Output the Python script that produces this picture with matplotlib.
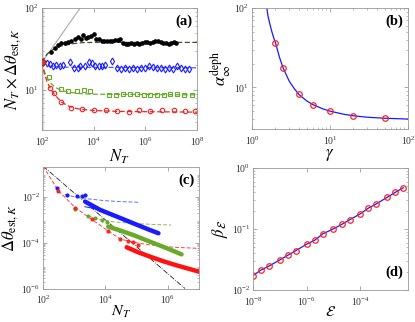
import numpy as np
import matplotlib
matplotlib.use("Agg")
import matplotlib.pyplot as plt
from matplotlib.ticker import NullFormatter, LogFormatterSciNotation

plt.rcParams['font.family'] = ['Liberation Serif', 'DejaVu Serif']
plt.rcParams['mathtext.fontset'] = 'stix'

# ---------------- panel (a) data ----------------
a_start = 21.7
a_gray_N = [1e2, 3.0e3]
a_gray_y = [21.7, 100.0]

a_black_logN = [2.35, 2.49, 2.62, 2.75, 2.88, 3.01, 3.14, 3.27, 3.39, 3.50, 3.60, 3.70, 3.79, 3.90,
                4.00, 4.10, 4.21, 4.31, 4.41, 4.52, 4.62, 4.72, 4.83, 4.93, 5.03, 5.14, 5.24, 5.34,
                5.45, 5.55, 5.66, 5.76, 5.86, 5.97, 6.07, 6.17, 6.28, 6.38, 6.48, 6.59, 6.69, 6.79,
                6.90, 7.00, 7.10, 7.20]
a_black = [29.3, 32.2, 35.4, 37.1, 37.8, 38.2, 39.0, 41.5, 44.7, 41.9, 46.4, 43.5, 43.9, 46.0,
           47.8, 41.5, 41.5, 39.0, 39.0, 39.0, 39.3, 40.0, 40.3, 40.7, 41.5, 37.1, 36.8, 36.4,
           37.1, 36.8, 37.8, 36.8, 37.4, 38.6, 38.2, 37.1, 38.2, 39.3, 40.0, 38.6, 37.8, 37.4,
           36.8, 37.1, 38.2, 37.8]
a_black_fit_logN = [2.0, 2.1, 2.2, 2.35, 2.5, 2.7, 3.0, 3.3, 3.6, 4.0, 8.0]
a_black_fit = [21.7, 25.0, 27.5, 30.0, 32.0, 34.0, 35.7, 37.0, 37.8, 38.0, 38.0]

a_blue_logN = [2.19, 2.30, 2.43, 2.55, 2.68, 2.81, 3.07, 3.25, 3.38, 3.48, 3.68, 3.81, 3.94,
               4.06, 4.19, 4.32, 4.45, 4.71, 4.90, 5.06, 5.21, 5.37, 5.52, 5.68, 5.83, 5.99,
               6.14, 6.30, 6.45, 6.61, 6.76, 6.92, 7.07, 7.23, 7.38, 7.54, 7.69]
a_blue = [21.5, 20.6, 19.8, 20.2, 19.8, 20.2, 21.7, 18.7, 18.4, 19.6, 19.8, 21.9, 21.1,
          19.3, 19.8, 19.3, 20.2, 22.6, 18.4, 18.0, 18.4, 18.2, 18.4, 18.0, 18.5, 18.7,
          19.3, 18.9, 18.5, 18.7, 18.0, 18.4, 17.9, 19.3, 18.7, 18.2, 18.2]
a_blue_fit_logN = [2.0, 2.3, 3.0, 8.0]
a_blue_fit = [21.7, 19.5, 18.9, 18.6]

a_green_logN = [2.28, 2.75, 3.02, 3.34, 3.64, 3.87, 4.58, 4.86, 5.12, 5.42, 5.68, 5.94,
                6.19, 6.45, 6.71, 6.97, 7.23, 7.48, 7.81]
a_green = [14.3, 10.2, 9.8, 9.8, 9.9, 9.6, 8.7, 8.7, 8.85, 8.8, 8.8, 8.7,
           8.6, 8.7, 8.7, 8.85, 8.8, 8.7, 8.7]
a_green_fit_logN = [2.0, 2.1, 2.2, 2.35, 2.5, 2.7, 3.0, 3.5, 4.0, 8.0]
a_green_fit = [21.7, 16.5, 14.0, 12.0, 10.8, 10.0, 9.4, 9.0, 8.85, 8.7]

a_red_logN = [2.32, 2.45, 2.74, 3.12, 3.55, 4.03, 4.49, 4.90, 5.35, 5.74, 6.19, 6.65,
              7.10, 7.55, 7.94]
a_red = [10.5, 9.1, 7.2, 5.98, 5.8, 5.6, 5.6, 5.55, 5.4, 5.7, 5.55, 5.7, 5.6, 5.55, 5.55]
a_red_fit_logN = [2.0, 2.1, 2.2, 2.32, 2.45, 2.6, 2.75, 3.0, 3.25, 3.5, 4.0, 5.0, 8.0]
a_red_fit = [21.7, 15.5, 12.5, 10.5, 9.1, 8.0, 7.1, 6.4, 6.0, 5.8, 5.6, 5.45, 5.35]

# ---------------- panel (b) data ----------------
b_gamma_pts = [2, 2.5, 4, 6, 10, 20, 50]
b_alpha_pts = [36.6, 17.7, 8.16, 6.1, 5.03, 4.4, 4.1]
b_gamma_line = [1.55, 1.6, 1.7, 1.8, 1.9, 2.0, 2.25, 2.5, 3.0, 3.5, 4.0, 5.0, 6.0, 8.0,
                10.0, 15.0, 20.0, 30.0, 50.0, 100.0]
b_alpha_line = [100, 80, 62, 50, 42, 36.6, 24, 17.7, 12, 9.6, 8.16, 6.8, 6.1, 5.4,
                5.03, 4.6, 4.4, 4.22, 4.1, 4.0]

# ---------------- panel (c) data ----------------
c_black_logN = [2.0, 6.55]
c_black_logD = [-0.66, -6.0]
c_red_dash_logN = [2.0, 2.49, 3.03, 3.56, 4.09, 4.47, 4.90, 5.43, 6.18, 7.0]
c_red_dash_logD = [-0.66, -1.73, -2.47, -2.98, -3.49, -3.84, -3.98, -4.10, -4.20, -4.25]
c_red_dot_logN = [2.49, 3.03, 3.56, 4.09, 4.47, 4.74, 4.90, 5.06]
c_red_dot_logD = [-1.73, -2.47, -2.98, -3.49, -3.84, -3.93, -3.98, -4.10]
c_red_thick_logN = [4.68, 5.05, 5.43, 5.83, 6.23, 6.62, 7.01]
c_red_thick_logD = [-4.20, -4.42, -4.61, -4.80, -4.97, -5.12, -5.27]

c_blue_dash_logN = [2.7, 3.0, 3.5, 4.0, 4.5, 5.1]
c_blue_dash_logD = [-1.9, -2.0, -2.1, -2.17, -2.21, -2.24]
c_blue_dot_logN = [2.44, 2.76, 3.1, 3.25, 3.35]
c_blue_dot_logD = [-1.60, -1.92, -1.98, -1.96, -1.93]
c_blue_thin_logN = [3.34, 3.83]
c_blue_thin_logD = [-2.43, -2.57]
c_blue_thick_logN = [3.35, 3.83, 4.36, 4.90, 5.43, 5.70]
c_blue_thick_logD = [-2.21, -2.57, -2.86, -3.16, -3.45, -3.59]

c_green_dash_logN = [3.45, 3.7, 3.9, 4.3, 5.0, 5.6, 6.1]
c_green_dash_logD = [-2.83, -2.95, -3.02, -3.10, -3.17, -3.21, -3.23]
c_green_dot_logN = [3.03, 3.45, 3.67, 3.88, 4.04]
c_green_dot_logD = [-2.54, -2.83, -2.94, -3.01, -3.08]
c_green_thick_logN = [4.09, 4.50, 4.90, 5.30, 5.70, 6.07, 6.44]
c_green_thick_logD = [-3.30, -3.48, -3.67, -3.89, -4.10, -4.30, -4.51]

# ---------------- panel (d) data ----------------
d_eps = [1e-8, 2e-8, 4e-8, 1e-7, 2e-7, 4e-7, 1e-6, 2e-6, 4e-6, 1e-5, 2e-5, 4e-5,
         1e-4, 2e-4, 4e-4, 1e-3, 2e-3, 4e-3]
d_beta = [0.0172, 0.0213, 0.0248, 0.0311, 0.0372, 0.0443, 0.0563, 0.0655, 0.0833,
          0.1007, 0.1186, 0.1415, 0.1775, 0.220, 0.259, 0.330, 0.398, 0.475]

W, H = 415, 322
fig = plt.figure(figsize=(W / 100, H / 100), dpi=100)


def box(l, r, t, b):
    return fig.add_axes([l / W, 1 - b / H, (r - l) / W, (b - t) / H])


def style(ax, label, lx, ly):
    ax.set_xscale('log')
    ax.set_yscale('log')
    for s in ax.spines.values():
        s.set_color('#999999')
        s.set_linewidth(0.6)
    ax.tick_params(which='both', direction='in', top=True, right=True,
                   color='#888888', labelsize=7, labelcolor='#333333')
    ax.tick_params(axis='x', pad=4)
    ax.tick_params(axis='y', pad=2)
    ax.tick_params(which='major', length=3, width=0.5)
    ax.tick_params(which='minor', length=1.6, width=0.4)
    ax.xaxis.set_minor_formatter(NullFormatter())
    ax.yaxis.set_minor_formatter(NullFormatter())
    ax.xaxis.set_major_formatter(LogFormatterSciNotation())
    ax.yaxis.set_major_formatter(LogFormatterSciNotation())
    ax.text(lx, ly, label, transform=ax.transAxes, fontsize=10.5,
            fontweight='bold', ha='right', va='top')


def p(v):
    return 10 ** np.array(v)


# ---- (a)
ax = box(42, 197, 8, 130)
style(ax, '(a)', 0.97, 0.95)
ax.axvspan(100, 112, color='#dddddd', zorder=0)
ax.plot(a_gray_N, a_gray_y, color='#aaaaaa', lw=0.8)
ax.plot(p(a_black_fit_logN), a_black_fit, '--', color='#3a5a20', lw=0.9, dashes=(4, 2))
ax.plot(p(a_black_logN), a_black, 'o', color='k', ms=2.3)
ax.plot(p(a_blue_fit_logN), a_blue_fit, '--', color='#4060ff', lw=0.9, dashes=(4, 2))
ax.plot(p(a_blue_logN), a_blue, 'd', mfc='none', mec='#1a1aff', mew=0.8, ms=3.5)
ax.plot(p(a_green_fit_logN), a_green_fit, '--', color='#6aaa2a', lw=0.9, dashes=(4, 2))
ax.plot(p(a_green_logN), a_green, 's', mfc='none', mec='#6aaa2a', mew=0.8, ms=3.2)
ax.plot(p(a_red_fit_logN), a_red_fit, '--', color='#ee2222', lw=0.9, dashes=(4, 2))
ax.plot(p(a_red_logN), a_red, 'o', mfc='none', mec='#ee2222', mew=0.8, ms=3.2)
ax.plot([100], [a_start], 'o', color='#ee3333', mec='#aa2222', ms=4.5, zorder=5)
ax.set_xlim(1e2, 1e8)
ax.set_ylim(10 ** 0.51, 1e2)
ax.set_xticks([1e2, 1e4, 1e6, 1e8])
ax.set_yticks([1e1, 1e2])
ax.set_xlabel(r'$N_T$', fontsize=12, labelpad=0)
ax.set_ylabel(r'$N_T \times \Delta\theta_{\mathrm{est},K}$', fontsize=12, labelpad=1)

# ---- (b)
ax = box(252, 408, 8, 129)
style(ax, '(b)', 0.97, 0.95)
ax.plot(b_gamma_line, b_alpha_line, color='#1a1aff', lw=0.9)
ax.plot(b_gamma_pts, b_alpha_pts, 'o', mfc='none', mec='#ff2222', mew=0.9, ms=4)
ax.set_xlim(1, 100)
ax.set_ylim(3, 100)
ax.set_xticks([1, 10, 100])
ax.set_yticks([10, 100])
ax.set_xlabel(r'$\gamma$', fontsize=12, labelpad=0)
ax.set_ylabel(r'$\alpha_\infty^{\rm deph}$', fontsize=12, labelpad=1)

# ---- (c)
ax = box(43, 199, 167, 288.5)
style(ax, '(c)', 0.97, 0.95)
ax.plot(p(c_black_logN), p(c_black_logD), '-.', color='#222222', lw=0.6)
ax.plot(p(c_blue_dash_logN), p(c_blue_dash_logD), '--', color='#5570ff', lw=0.7, dashes=(4, 2))
ax.plot(p(c_green_dash_logN), p(c_green_dash_logD), '--', color='#88bb55', lw=0.7, dashes=(4, 2))
ax.plot(p(c_red_dash_logN), p(c_red_dash_logD), '--', color='#ff4444', lw=0.7, dashes=(4, 2))
ax.plot(p(c_blue_dot_logN), p(c_blue_dot_logD), 'o', color='#1a1aff', ms=2)
ax.plot(p(c_green_dot_logN), p(c_green_dot_logD), 'o', color='#6aaa2a', ms=2)
ax.plot(p(c_red_dot_logN), p(c_red_dot_logD), 'o', color='#ff2222', ms=2)
ax.plot(p(c_blue_thin_logN), p(c_blue_thin_logD), '-', color='#1a1aff', lw=0.7)
ax.plot(p(c_blue_thick_logN), p(c_blue_thick_logD), '-', color='#1a1aff', lw=3.2,
        solid_capstyle='round')
ax.plot(p(c_green_thick_logN), p(c_green_thick_logD), '-', color='#6aaa2a', lw=3.2,
        solid_capstyle='round')
ax.plot(p(c_red_thick_logN), p(c_red_thick_logD), '-', color='#ff1111', lw=3.2,
        solid_capstyle='round')
ax.set_xlim(1e2, 1e7)
ax.set_ylim(1e-6, 10 ** -0.7)
ax.set_xticks([1e2, 1e4, 1e6])
ax.set_yticks([1e-6, 1e-4, 1e-2])
ax.set_xlabel(r'$N_T$', fontsize=11.5, labelpad=-2)
ax.set_ylabel(r'$\Delta\theta_{\mathrm{est},K}$', fontsize=12, labelpad=1)

# ---- (d)
ax = box(253, 408, 168, 290)
style(ax, '(d)', 0.97, 0.2)
ax.plot(d_eps, d_beta, color='#1a1aff', lw=0.9)
ax.plot(d_eps, d_beta, 'o', mfc='none', mec='#ff2222', mew=0.9, ms=4)
ax.set_xlim(1e-8, 6e-3)
ax.set_ylim(1e-2, 1e0)
ax.set_xticks([1e-8, 1e-6, 1e-4])
ax.set_yticks([1e-2, 1e-1, 1e0])
ax.set_xlabel(r'$\mathcal{E}$', fontsize=11, labelpad=-2)
ax.set_ylabel(r'$\beta_{\mathcal{E}}$', fontsize=12, labelpad=1)

fig.savefig('out.png', dpi=100)
